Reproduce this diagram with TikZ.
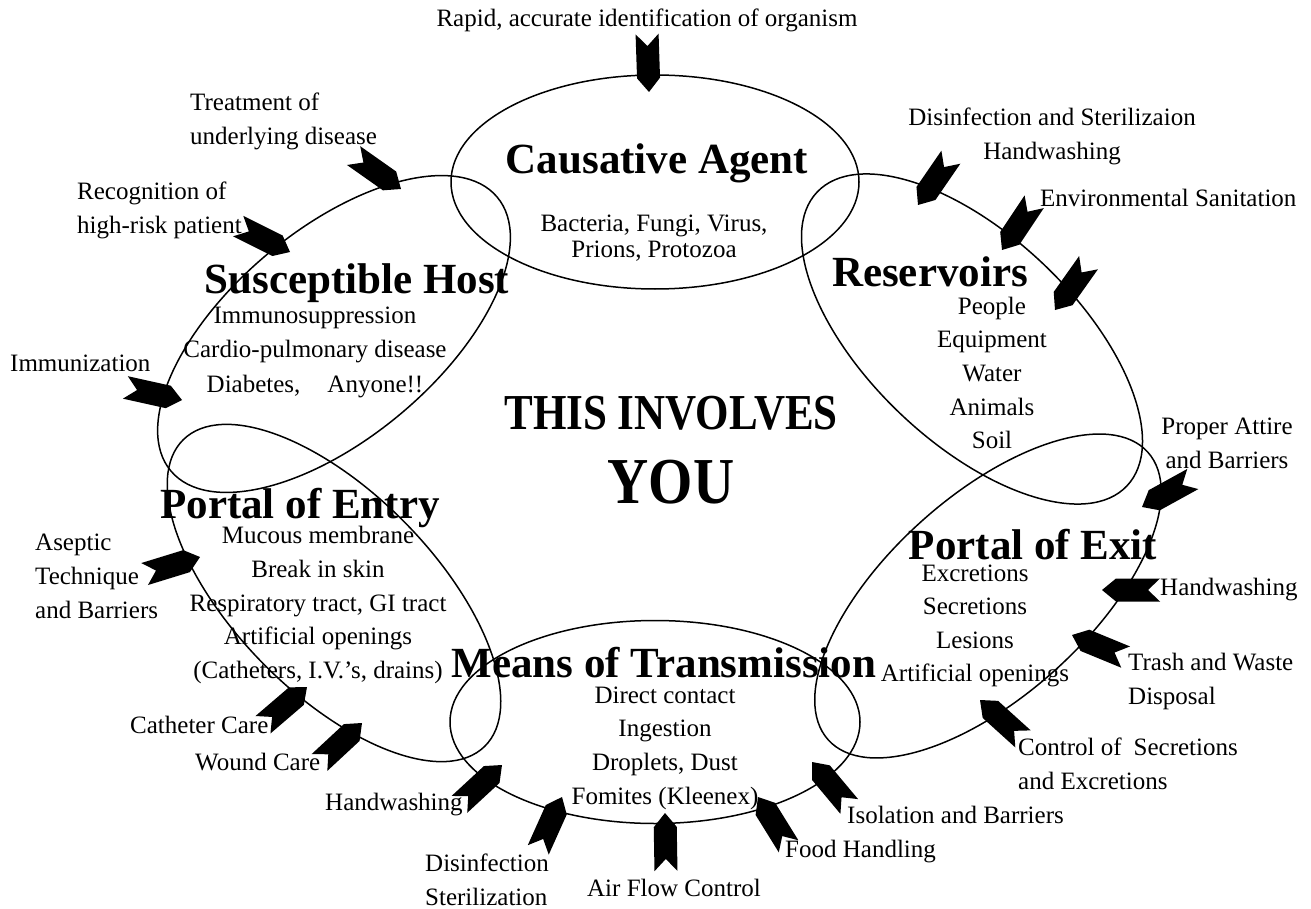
\documentclass[tikz,border=0pt]{standalone}
\usepackage{fontspec}
\setmainfont{Liberation Serif}
\usetikzlibrary{calc,shapes.geometric}
\tikzset{
  oval/.style={draw, ellipse, line width=1.5pt, inner sep=0pt},
  lab/.style={font=\fontsize{25}{34}\selectfont, inner sep=0pt},
  ttl/.style={font=\bfseries\fontsize{43}{50}\selectfont, inner sep=0pt},
  lst/.style={font=\fontsize{25}{33.6}\selectfont, inner sep=0pt, align=center},
}
% chevron arrow: #1 = tail-side reference point, #2 = tip
\newcommand\chevarrow[2]{%
  \path (#2) coordinate (cT)
        ($(#2)!14pt!(#1)$) coordinate (cS)
        ($(#2)!58pt!(#1)$) coordinate (cE)
        ($(#2)!46pt!(#1)$) coordinate (cN);
  \fill (cT) -- ($(cS)!11.5pt!90:(cT)$) -- ($(cE)!11.5pt!90:(cT)$) -- (cN)
        -- ($(cE)!11.5pt!-90:(cT)$) -- ($(cS)!11.5pt!-90:(cT)$) -- cycle;
}
\begin{document}
\begin{tikzpicture}[x=1pt,y=-1pt]
\useasboundingbox (0,0) rectangle (1311,909);
\fill[white] (0,0) rectangle (1311,909);

% ellipses
\node[oval, minimum width=408pt, minimum height=214pt] (agent) at (655,182) {};
\node[oval, minimum width=426pt, minimum height=208pt, rotate=40] (host) at (334,334) {};
\node[oval, minimum width=427pt, minimum height=207pt, rotate=-43.5] (res) at (972,339) {};
\node[oval, minimum width=430pt, minimum height=200pt, rotate=-45.5] (entry) at (334,593) {};
\node[oval, minimum width=430pt, minimum height=200pt, rotate=42] (exit) at (988,596) {};
\node[oval, minimum width=410pt, minimum height=203pt] (means) at (655,722) {};

% titles and lists
\node[ttl] (tagent) at (657,163) {Causative Agent};
\node[lst, font=\fontsize{25}{25.5}\selectfont] (lagent) at (654,238) {Bacteria, Fungi, Virus,\\Prions, Protozoa};
\node[ttl] (tres) at (930,272) {Reservoirs};
\node[lst] (lres) at (992,373) {People\\Equipment\\Water\\Animals\\Soil};
\node[ttl] (thost) at (357,283) {Susceptible Host};
\node[lst, font=\fontsize{25}{34.5}\selectfont] (lhost) at (315,352) {Immunosuppression\\Cardio-pulmonary disease\\Diabetes,\hspace{27pt}Anyone!!};
\node[ttl] (tentry) at (300,508) {Portal of Entry};
\node[lst] (lentry) at (318,605) {Mucous membrane\\Break in skin\\Respiratory tract, GI tract\\Artificial openings\\(Catheters, I.V.’s, drains)};
\node[ttl] (tmeans) at (664,663) {Means of Transmission};
\node[lst] (lmeans) at (665,748) {Direct contact\\Ingestion\\Droplets, Dust\\Fomites (Kleenex)};
\node[ttl] (texit) at (1033,545) {Portal of Exit};
\node[lst] (lexit) at (975,626) {Excretions\\Secretions\\Lesions\\Artificial openings};
\node[ttl, yscale=1.17] (this) at (671,413) {THIS INVOLVES};
\node[ttl, yscale=1.15, font=\bfseries\fontsize{57}{60}\selectfont] (you) at (671,482) {YOU};

% outer labels
\node[lab] (o1) at (647,20) {Rapid, accurate identification of organism};
\node[lab, align=left, anchor=west] (o2) at (190,121) {Treatment of\\underlying disease};
\node[lab, align=left, anchor=west] (o3) at (77,210) {Recognition of\\high-risk patient};
\node[lab, anchor=west] (o4) at (10,363) {Immunization};
\node[lab, align=left, anchor=west] (o5) at (35,576) {Aseptic\\Technique\\and Barriers};
\node[lab, anchor=west] (o6) at (130,725) {Catheter Care};
\node[lab, anchor=west] (o7) at (195,762) {Wound Care};
\node[lab, anchor=west] (o8) at (325,805) {Handwashing};
\node[lab, align=left, anchor=west] (o9) at (425,880) {Disinfection\\Sterilization};
\node[lab] (o10) at (674,888) {Air Flow Control};
\node[lab, anchor=west] (o11) at (785,852) {Food Handling};
\node[lab, anchor=west] (o12) at (847,815) {Isolation and Barriers};
\node[lab, align=left, anchor=west] (o13) at (1018,764) {Control of\hspace{12pt}Secretions\\and Excretions};
\node[lab, align=left, anchor=west] (o14) at (1128,681) {Trash and Waste\\Disposal};
\node[lab, anchor=west] (o15) at (1160,590) {Handwashing};
\node[lab, align=center] (o16) at (1227,443) {Proper Attire\\and Barriers};
\node[lab, anchor=west] (o18) at (1040,198) {Environmental Sanitation};
\node[lab, align=center] (o19) at (1052,136) {Disinfection and Sterilizaion\\Handwashing};

% chevron arrows
\coordinate (a1t) at (647,32);   \coordinate (a1h) at (649,92);
\coordinate (a2t) at (357,158);  \coordinate (a2h) at (401,189);
\coordinate (a3t) at (242,228);  \coordinate (a3h) at (290,252);
\coordinate (a4t) at (128,388);  \coordinate (a4h) at (182,400);
\coordinate (a5t) at (148,573);  \coordinate (a5h) at (200,557);
\coordinate (a6t) at (265,723);  \coordinate (a6h) at (307,687);
\coordinate (a7t) at (320,762);  \coordinate (a7h) at (362,723);
\coordinate (a8t) at (462,802);  \coordinate (a8h) at (502,765);
\coordinate (a9t) at (540,846);  \coordinate (a9h) at (562,797);
\coordinate (a10t) at (666,872); \coordinate (a10h) at (665,813);
\coordinate (a11t) at (789,847); \coordinate (a11h) at (758,797);
\coordinate (a12t) at (848,805); \coordinate (a12h) at (812,762);
\coordinate (a13t) at (1022,738);\coordinate (a13h) at (980,700);
\coordinate (a14t) at (1123,656);\coordinate (a14h) at (1072,635);
\coordinate (a15t) at (1157,590);\coordinate (a15h) at (1102,590);
\coordinate (a16t) at (1191,480);\coordinate (a16h) at (1142,507);
\coordinate (a17t) at (1089,262);\coordinate (a17h) at (1055,310);
\coordinate (a18t) at (1034,202);\coordinate (a18h) at (1002,250);
\coordinate (a19t) at (951,157); \coordinate (a19h) at (918,205);
\foreach \i in {1,...,19}{\chevarrow{a\i t}{a\i h}}
\end{tikzpicture}
\end{document}
